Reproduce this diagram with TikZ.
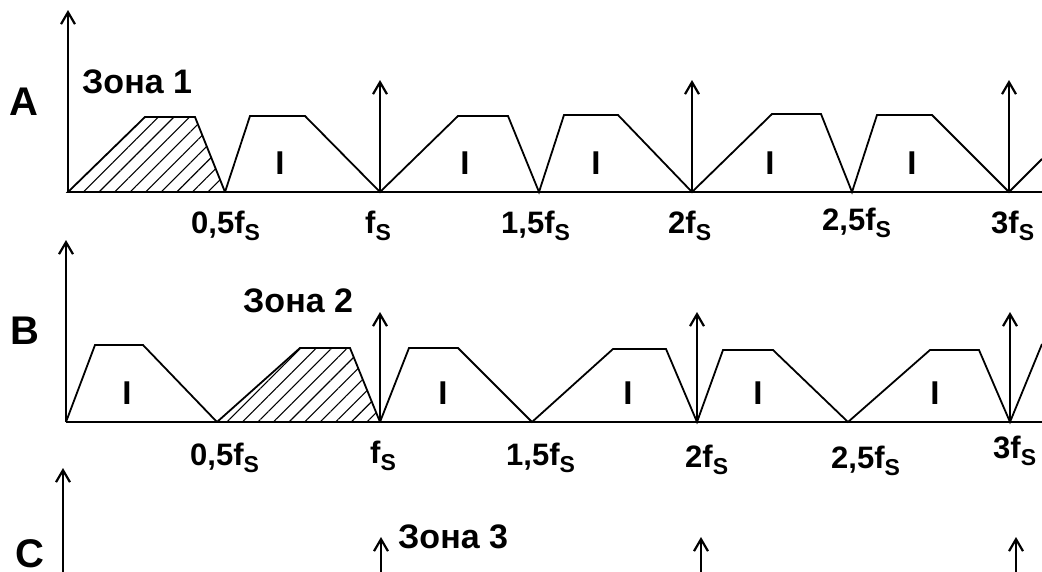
\documentclass[tikz,border=0pt]{standalone}
\usepackage{fontspec}
\setmainfont{Liberation Sans}
\usetikzlibrary{arrows.meta,patterns.meta}
\newcommand{\fslab}[1]{#1f\raisebox{-7pt}{\fontsize{23}{23}\selectfont S}}
\begin{document}
\begin{tikzpicture}[x=1pt,y=-1pt,
  ax/.style={line width=2pt,-{Straight Barb[length=12pt,width=14pt,line width=2.2pt]}},
  baseline axis/.style={line width=2pt},
  spec/.style={line width=1.8pt,line join=miter},
  hatch/.style={spec,pattern={Lines[angle=45,distance=11pt,line width=1.1pt]}},
  lbl/.style={font=\fontsize{31}{31}\selectfont\bfseries,anchor=base west,inner sep=0},
  rowname/.style={font=\fontsize{40}{40}\selectfont\bfseries,anchor=base west,inner sep=0},
  zonename/.style={font=\fontsize{34}{34}\selectfont\bfseries,anchor=base west,inner sep=0},
  band/.style={font=\fontsize{33}{33}\selectfont\bfseries,inner sep=0},
]
\useasboundingbox[fill=white] (0,0) rectangle (1042,571);

% ---------- Row A ----------
\coordinate (a0) at (68,192);
\coordinate (aend) at (1042,192);
\coordinate (atop) at (68,10);
\draw[hatch] (a0) -- (145,117) -- (195,117) -- (225,192) -- cycle;
\draw[spec] (225,192) -- (250,116) -- (305,116) -- (380,192) -- (458,116) -- (508,116) -- (539,192)
  -- (564,115) -- (618,115) -- (692,192) -- (772,114) -- (821,114) -- (852,192)
  -- (877,115) -- (932,115) -- (1009,192) -- (1042,159);
\draw[baseline axis] (a0) -- (aend);
\draw[ax] (a0) -- (atop);
\coordinate (af1) at (380,192); \coordinate (af1t) at (380,80);
\coordinate (af2) at (692,192); \coordinate (af2t) at (692,80);
\coordinate (af3) at (1009,192); \coordinate (af3t) at (1009,80);
\draw[ax] (af1) -- (af1t);
\draw[ax] (af2) -- (af2t);
\draw[ax] (af3) -- (af3t);
\node[rowname] (rA) at (9,115) {A};
\node[zonename] (z1) at (82,93) {Зона 1};
\foreach \x [count=\i] in {280,465,596,770,912} \node[band] (aI\i) at (\x,163) {I};
\node[lbl] (la1) at (191,233) {\fslab{0,5}};
\node[lbl] (la2) at (365,233) {\fslab{}};
\node[lbl] (la3) at (501,233) {\fslab{1,5}};
\node[lbl] (la4) at (668,233) {\fslab{2}};
\node[lbl] (la5) at (822,230) {\fslab{2,5}};
\node[lbl] (la6) at (991,233) {\fslab{3}};

% ---------- Row B ----------
\coordinate (b0) at (66,422);
\coordinate (bend) at (1042,422);
\coordinate (btop) at (66,240);
\draw[spec] (b0) -- (95,345) -- (143,345) -- (217,422);
\draw[hatch] (217,422) -- (300,348) -- (350,348) -- (380,422) -- cycle;
\draw[spec] (380,422) -- (409,348) -- (458,348) -- (532,422) -- (613,349) -- (666,349) -- (697,422)
  -- (723,350) -- (773,350) -- (848,422) -- (930,350) -- (979,350) -- (1010,422) -- (1042,344);
\draw[baseline axis] (b0) -- (bend);
\draw[ax] (b0) -- (btop);
\coordinate (bf1) at (380,422); \coordinate (bf1t) at (380,312);
\coordinate (bf2) at (697,422); \coordinate (bf2t) at (697,312);
\coordinate (bf3) at (1010,422); \coordinate (bf3t) at (1010,312);
\draw[ax] (bf1) -- (bf1t);
\draw[ax] (bf2) -- (bf2t);
\draw[ax] (bf3) -- (bf3t);
\node[rowname] (rB) at (10,344) {B};
\node[zonename] (z2) at (243,312) {Зона 2};
\foreach \x [count=\i] in {127,443,628,758,935} \node[band] (bI\i) at (\x,393) {I};
\node[lbl] (lb1) at (190,465) {\fslab{0,5}};
\node[lbl] (lb2) at (370,463) {\fslab{}};
\node[lbl] (lb3) at (506,465) {\fslab{1,5}};
\node[lbl] (lb4) at (685,467) {\fslab{2}};
\node[lbl] (lb5) at (831,468) {\fslab{2,5}};
\node[lbl] (lb6) at (993,458) {\fslab{3}};

% ---------- Row C ----------
\coordinate (c0) at (63,575);
\coordinate (ctop) at (63,468);
\draw[ax] (c0) -- (ctop);
\coordinate (cf1) at (381,575); \coordinate (cf1t) at (381,537);
\coordinate (cf2) at (701,575); \coordinate (cf2t) at (701,537);
\coordinate (cf3) at (1016,575); \coordinate (cf3t) at (1016,537);
\draw[ax] (cf1) -- (cf1t);
\draw[ax] (cf2) -- (cf2t);
\draw[ax] (cf3) -- (cf3t);
\node[rowname] (rC) at (15,567) {C};
\node[zonename] (z3) at (398,548) {Зона 3};
\end{tikzpicture}
\end{document}
